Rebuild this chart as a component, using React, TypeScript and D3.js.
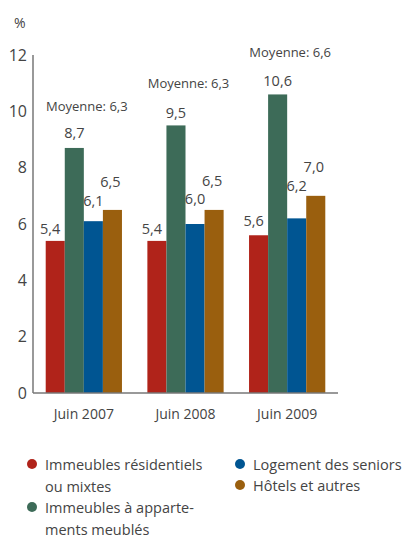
import * as d3 from 'd3';

const years = ['Juin 2007', 'Juin 2008', 'Juin 2009'];
const seriesNames = [
  'Immeubles résidentiels ou mixtes',
  'Immeubles à appartements meublés',
  'Logement des seniors',
  'Hôtels et autres',
];
const residentiel = [5.4, 5.4, 5.6];
const meuble = [8.7, 9.5, 10.6];
const seniors = [6.1, 6.0, 6.2];
const hotels = [6.5, 6.5, 7.0];
const moyennes = [6.3, 6.3, 6.6];
const yTicks = [0, 2, 4, 6, 8, 10, 12];

const colors = ['#b0231a', '#3d6b58', '#005592', '#9a5f0e'];

// how far each value label sits above its bar (the source staggers them)
const labelLift = [
  [7, 10, 15, 23],
  [7, 7, 20, 24],
  [9, 8, 27, 24],
];
const labelShift = [-5, 0, 0, -2];
// height of the "Moyenne" label above the tallest bar
const avgLift = 37;

const fmt = (v: number) => v.toFixed(1).replace('.', ',');
const textColor = '#444';
const font = "'Open Sans', sans-serif";

export default function App() {
  const width = 406;
  const height = 539;
  const values = [residentiel, meuble, seniors, hotels];

  const x0 = d3.scaleBand<string>().domain(years).range([33, 338]).paddingInner(0.25).paddingOuter(0.125);
  const x1 = d3.scaleBand<number>().domain([0, 1, 2, 3]).range([0, x0.bandwidth()]);
  const y = d3.scaleLinear().domain([0, 12]).range([393, 55]);

  // legend wraps exactly as in the source
  const legend = [
    { s: 0, x: 32, y: 470, lines: ['Immeubles résidentiels', 'ou mixtes'] },
    { s: 1, x: 32, y: 513, lines: ['Immeubles à apparte-', 'ments meublés'] },
    { s: 2, x: 240, y: 470, lines: ['Logement des seniors'] },
    { s: 3, x: 240, y: 491, lines: ['Hôtels et autres'] },
  ];

  return (
    <svg width={width} height={height} style={{ position: 'absolute', left: 0, top: 0 }} fontFamily={font}>
      <rect width={width} height={height} fill="#fff" />
      <text x={14} y={28} fontSize={14} fill={textColor}>%</text>

      {yTicks.map(t => (
        <text key={t} x={27} y={y(t)} dy="0.35em" textAnchor="end" fontSize={16} fill={textColor}>{t}</text>
      ))}

      {years.map((yr, g) => (
        <g key={yr} transform={`translate(${x0(yr)},0)`}>
          {values.map((vals, s) => (
            <rect key={s} x={x1(s)} y={y(vals[g])} width={x1.bandwidth()} height={y(0) - y(vals[g])} fill={colors[s]} />
          ))}
          {values.map((vals, s) => (
            <text key={'l' + s} x={(x1(s) as number) + x1.bandwidth() / 2 + labelShift[s]} y={y(vals[g]) - labelLift[g][s]}
              textAnchor="middle" fontSize={14.5} fill={textColor}>{fmt(vals[g])}</text>
          ))}
          <text x={x0.bandwidth() / 2 + 3} y={y(d3.max(values, v => v[g]) as number) - avgLift}
            textAnchor="middle" fontSize={13} fill={textColor}>Moyenne: {fmt(moyennes[g])}</text>
          <text x={x0.bandwidth() / 2} y={419} textAnchor="middle" fontSize={14} fill={textColor}>{yr}</text>
        </g>
      ))}

      <line x1={33} x2={33} y1={55} y2={393} stroke="#777" strokeWidth={1.5} />
      <line x1={33} x2={338} y1={393} y2={393} stroke="#777" strokeWidth={1.5} />

      {legend.map(l => (
        <g key={l.s}>
          <circle cx={l.x} cy={l.y - 6} r={5} fill={colors[l.s]} />
          <text x={l.x + 13} y={l.y} fontSize={14.5} fill={textColor}>
            {l.lines.map((ln, i) => (
              <tspan key={i} x={l.x + 13} dy={i === 0 ? 0 : 21.5}>{ln}</tspan>
            ))}
          </text>
        </g>
      ))}
    </svg>
  );
}
